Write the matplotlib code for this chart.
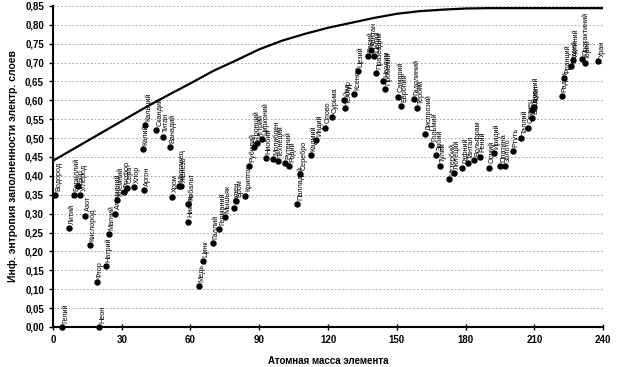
import numpy as np
import matplotlib
matplotlib.use("Agg")
import matplotlib.pyplot as plt

# ─── Data ─────────────────────────────────────────────────────────────────────

names = ["Водород", "Гелий", "Литий", "Бериллий", "Бор", "Углерод", "Азот",
         "Кислород", "Фтор", "Неон", "Натрий", "Магний", "Алюминий", "Кремний",
         "Фосфор", "Сера", "Хлор", "Калий", "Аргон", "Кальций", "Скандий",
         "Титан", "Ванадий", "Хром", "Марганец", "Железо", "Никель", "Кобальт",
         "Медь", "Цинк", "Галлий", "Германий", "Мышьяк", "Селен", "Бром",
         "Криптон", "Рубидий", "Стронций", "Иттрий", "Цирконий", "Ниобий",
         "Молибден", "Технеций", "Рутений", "Родий", "Палладий", "Серебро",
         "Кадмий", "Индий", "Олово", "Сурьма", "Теллур", "Йод", "Ксенон",
         "Цезий", "Барий", "Лантан", "Церий", "Празеодим", "Неодим", "Прометий",
         "Самарий", "Европий", "Гадолиний", "Тербий", "Диспрозий", "Гольмий",
         "Эрбий", "Тулий", "Иттербий", "Лютеций", "Гафний", "Тантал",
         "Вольфрам", "Рений", "Осмий", "Иридий", "Платина", "Золото", "Ртуть",
         "Таллий", "Свинец", "Висмут", "Полоний", "Астат", "Радон", "Франций",
         "Радий", "Актиний", "Торий", "Протактиний", "Уран"]

mass = [1.0, 4.0, 6.9, 9.0, 10.8, 12.0, 14.0, 16.0, 19.0, 20.2, 23.0, 24.3,
        27.0, 28.1, 31.0, 32.1, 35.5, 39.1, 39.9, 40.1, 45.0, 47.9, 50.9, 52.0,
        54.9, 55.8, 58.7, 58.9, 63.5, 65.4, 69.7, 72.6, 74.9, 79.0, 79.9, 83.8,
        85.5, 87.6, 88.9, 91.2, 92.9, 95.9, 98.0, 101.1, 102.9, 106.4, 107.9,
        112.4, 114.8, 118.7, 121.8, 127.6, 126.9, 131.3, 132.9, 137.3, 138.9,
        140.1, 140.9, 144.2, 145.0, 150.4, 152.0, 157.3, 158.9, 162.5, 164.9,
        167.3, 168.9, 173.0, 175.0, 178.5, 180.9, 183.8, 186.2, 190.2, 192.2,
        195.1, 197.0, 200.6, 204.4, 207.2, 209.0, 209.0, 210.0, 222.0, 223.0,
        226.0, 227.0, 232.0, 231.0, 238.0]

entropy = [0.350, 0.000, 0.261, 0.350, 0.372, 0.350, 0.295, 0.217, 0.118, 0.000,
           0.162, 0.245, 0.300, 0.336, 0.357, 0.369, 0.370, 0.470, 0.363, 0.535,
           0.522, 0.504, 0.477, 0.345, 0.372, 0.372, 0.279, 0.326, 0.109, 0.175,
           0.222, 0.260, 0.292, 0.316, 0.334, 0.348, 0.427, 0.477, 0.488, 0.497,
           0.448, 0.445, 0.440, 0.433, 0.426, 0.325, 0.405, 0.454, 0.495, 0.528,
           0.555, 0.579, 0.601, 0.617, 0.678, 0.718, 0.734, 0.716, 0.673, 0.651,
           0.630, 0.610, 0.585, 0.603, 0.579, 0.510, 0.482, 0.454, 0.425, 0.392,
           0.407, 0.422, 0.433, 0.442, 0.451, 0.422, 0.460, 0.426, 0.427, 0.466,
           0.501, 0.528, 0.553, 0.575, 0.582, 0.612, 0.659, 0.692, 0.707, 0.698,
           0.709, 0.704]

# upper envelope curve
curve_x = [0, 10, 20, 30, 40, 50, 60, 70, 80, 90, 100, 110, 120, 130, 140,
           150, 160, 170, 180, 190, 200, 220, 240]
curve_y = [0.440, 0.475, 0.510, 0.545, 0.580, 0.613, 0.645, 0.678, 0.706,
           0.735, 0.758, 0.776, 0.792, 0.805, 0.818, 0.829, 0.836, 0.840,
           0.843, 0.844, 0.844, 0.844, 0.844]

x_ticks = [0, 30, 60, 90, 120, 150, 180, 210, 240]
y_ticks = [0.00, 0.05, 0.10, 0.15, 0.20, 0.25, 0.30, 0.35, 0.40, 0.45, 0.50,
           0.55, 0.60, 0.65, 0.70, 0.75, 0.80, 0.85]
y_ticklabels = [f"{v:.2f}".replace(".", ",") for v in y_ticks]

# ─── Plot ─────────────────────────────────────────────────────────────────────

plt.rcParams["font.family"] = ["Liberation Sans", "DejaVu Sans"]

fig = plt.figure(figsize=(6.23, 3.67), dpi=100)
ax = fig.add_axes([0.085, 0.109, 0.883, 0.875])

for v in y_ticks[1:]:
    ax.axhline(v, color="0.6", lw=0.6, ls=(0, (2, 2.5)), zorder=0)

ax.plot(curve_x, curve_y, color="black", lw=1.6, zorder=2)
ax.plot(mass, entropy, "o", color="black", ms=3.6, zorder=3, clip_on=False)

for n, m, e in zip(names, mass, entropy):
    ax.annotate(n, (m, e), xytext=(2.5, 3), textcoords="offset points",
                rotation=90, ha="center", va="bottom", fontsize=5.2,
                color="black")

ax.set_xlim(0, 240)
ax.set_ylim(0, 0.85)
ax.set_xticks(x_ticks)
ax.set_yticks(y_ticks)
ax.set_yticklabels(y_ticklabels)

for s in ["top", "right"]:
    ax.spines[s].set_visible(False)
for s in ["left", "bottom"]:
    ax.spines[s].set_linewidth(1.5)

ax.tick_params(axis="both", labelsize=7, width=1, length=3)
ax.tick_params(axis="x", direction="inout", length=4)
for lab in ax.get_xticklabels() + ax.get_yticklabels():
    lab.set_fontweight("bold")

ax.set_xlabel("Атомная масса элемента", fontsize=7, fontweight="bold",
              labelpad=8)
ax.set_ylabel("Инф. энтропия заполненности электр. слоев", fontsize=7.5,
              fontweight="bold", labelpad=5)

plt.savefig("out.png", dpi=100)
